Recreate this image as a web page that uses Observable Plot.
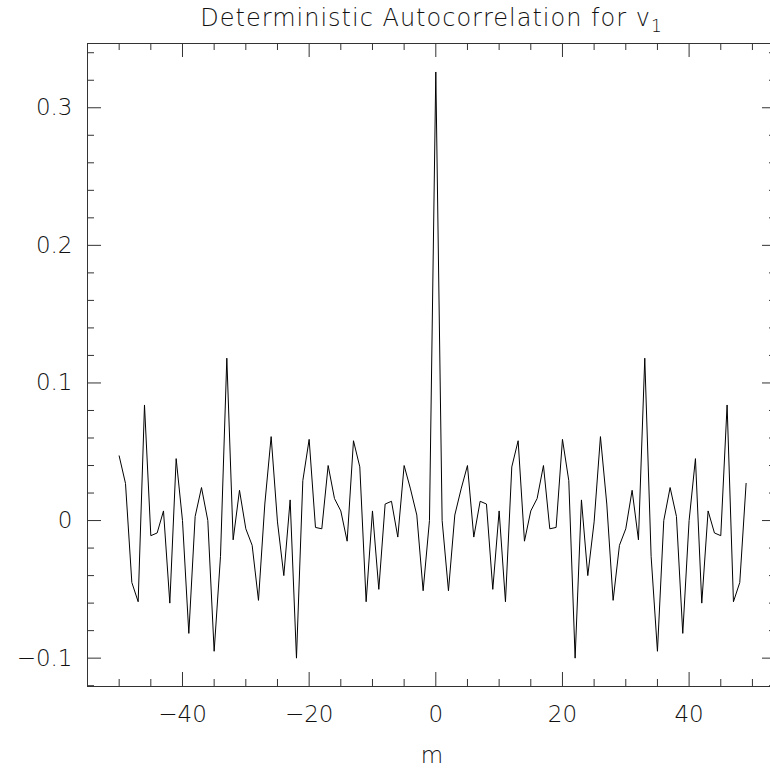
<!DOCTYPE html>
<html>
<head>
<meta charset="utf-8">
<script src="https://cdn.jsdelivr.net/npm/d3@7"></script>
<script src="https://cdn.jsdelivr.net/npm/@observablehq/plot@0.6"></script>
<style>
  html, body { margin: 0; padding: 0; background: #fff; overflow: hidden; }
  #wrap { position: relative; width: 770px; height: 768px; overflow: hidden; background: #fff; }
  #title { position: absolute; left: 0; top: 6px; width: 863px; text-align: center;
           font-family: "DejaVu Sans", sans-serif; font-weight: 200; font-size: 24px; line-height: 24px;
           letter-spacing: 1px; color: #111; z-index: 2; white-space: nowrap; }
  #title span { font-size: 17px; position: relative; top: 6px; }
  #chart { position: absolute; left: 0; top: 0; width: 780px; height: 768px; }
  #chart svg { max-width: none !important; width: 780px !important; height: 768px !important; }
</style>
</head>
<body>
<div id="wrap">
  <div id="title">Deterministic Autocorrelation for v<span>1</span></div>
  <div id="chart"></div>
</div>
<script>
// lags m
const lags = [-50,-49,-48,-47,-46,-45,-44,-43,-42,-41,-40,-39,-38,-37,-36,-35,-34,-33,-32,-31,
  -30,-29,-28,-27,-26,-25,-24,-23,-22,-21,-20,-19,-18,-17,-16,-15,-14,-13,-12,-11,
  -10,-9,-8,-7,-6,-5,-4,-3,-2,-1,0,1,2,3,4,5,6,7,8,9,
  10,11,12,13,14,15,16,17,18,19,20,21,22,23,24,25,26,27,28,29,
  30,31,32,33,34,35,36,37,38,39,40,41,42,43,44,45,46,47,48,49];

// autocorrelation values
const acf = [0.047,0.027,-0.045,-0.059,0.084,-0.011,-0.009,0.007,-0.060,0.045,
  0.000,-0.082,0.003,0.024,0.000,-0.095,-0.026,0.118,-0.014,0.022,
  -0.006,-0.018,-0.058,0.012,0.061,-0.001,-0.040,0.015,-0.100,0.029,
  0.059,-0.005,-0.006,0.040,0.016,0.007,-0.015,0.058,0.039,-0.059,
  0.007,-0.050,0.012,0.014,-0.012,0.040,0.023,0.004,-0.051,0.000,
  0.326,
  0.000,-0.051,0.004,0.023,0.040,-0.012,0.014,0.012,-0.050,0.007,
  -0.059,0.039,0.058,-0.015,0.007,0.016,0.040,-0.006,-0.005,0.059,
  0.029,-0.100,0.015,-0.040,-0.001,0.061,0.012,-0.058,-0.018,-0.006,
  0.022,-0.014,0.118,-0.026,-0.095,0.000,0.024,0.003,-0.082,0.000,
  0.045,-0.060,0.007,-0.009,-0.011,0.084,-0.059,-0.045,0.027];

// axis ticks
const xMajor = [-40, -20, 0, 20, 40];
const xMinor = [-50, -45, -35, -30, -25, -15, -10, -5, 5, 10, 15, 25, 30, 35, 45, 50];
const yMajor = [-0.1, 0, 0.1, 0.2, 0.3];
const yMinor = [-0.12, -0.08, -0.06, -0.04, -0.02, 0.02, 0.04, 0.06, 0.08, 0.12, 0.14, 0.16, 0.18,
                0.22, 0.24, 0.26, 0.28, 0.32, 0.34];
const xLabel = "m";

const data = lags.map((m, i) => ({m, v: acf[i]}));

const W = 780, H = 768, ML = 87, MR = 4, MT = 43, MB = 82;
const FW = W - ML - MR, FH = H - MT - MB;
const major = 14, minor = 7;
const axisColor = "#333";
const font = "DejaVu Sans, sans-serif";
const fmt = d => (d < 0 ? "\u2212" : "") + Math.abs(d).toString();

const chart = Plot.plot({
  width: W,
  height: H,
  marginLeft: ML,
  marginRight: MR,
  marginTop: MT,
  marginBottom: MB,
  style: {fontFamily: font, background: "transparent", color: "#111", maxWidth: "none"},
  x: {domain: [-55, 53.8]},
  y: {domain: [-0.1206, 0.3467]},
  marks: [
    Plot.frame({stroke: axisColor, strokeWidth: 1}),
    // bottom ticks
    Plot.ruleX(xMajor, {x: d => d, insetTop: FH - major, stroke: axisColor}),
    Plot.ruleX(xMinor, {x: d => d, insetTop: FH - minor, stroke: axisColor}),
    // top ticks
    Plot.ruleX(xMajor, {x: d => d, insetBottom: FH - major, stroke: axisColor}),
    Plot.ruleX(xMinor, {x: d => d, insetBottom: FH - minor, stroke: axisColor}),
    // left ticks
    Plot.ruleY(yMajor, {y: d => d, insetRight: FW - major, stroke: axisColor}),
    Plot.ruleY(yMinor, {y: d => d, insetRight: FW - minor, stroke: axisColor}),
    // right ticks
    Plot.ruleY(yMajor, {y: d => d, insetLeft: FW - major, stroke: axisColor}),
    Plot.ruleY(yMinor, {y: d => d, insetLeft: FW - minor, stroke: axisColor}),
    Plot.axisX({ticks: xMajor, tickSize: 0, tickPadding: 19, tickFormat: fmt,
                fontSize: 23, fontWeight: 200, fontFamily: font, label: null, fill: "#111"}),
    Plot.axisY({ticks: yMajor, tickSize: 0, tickPadding: 15, tickFormat: fmt,
                fontSize: 23, fontWeight: 200, fontFamily: font, label: null, fill: "#111"}),
    Plot.text([xLabel], {frameAnchor: "bottom", dy: 76, lineAnchor: "bottom", text: d => d,
                fontSize: 23, fontWeight: 200, fontFamily: font, fill: "#111"}),
    Plot.line(data, {x: "m", y: "v", stroke: "#000", strokeWidth: 1})
  ]
});
document.getElementById("chart").appendChild(chart);
</script>
</body>
</html>
